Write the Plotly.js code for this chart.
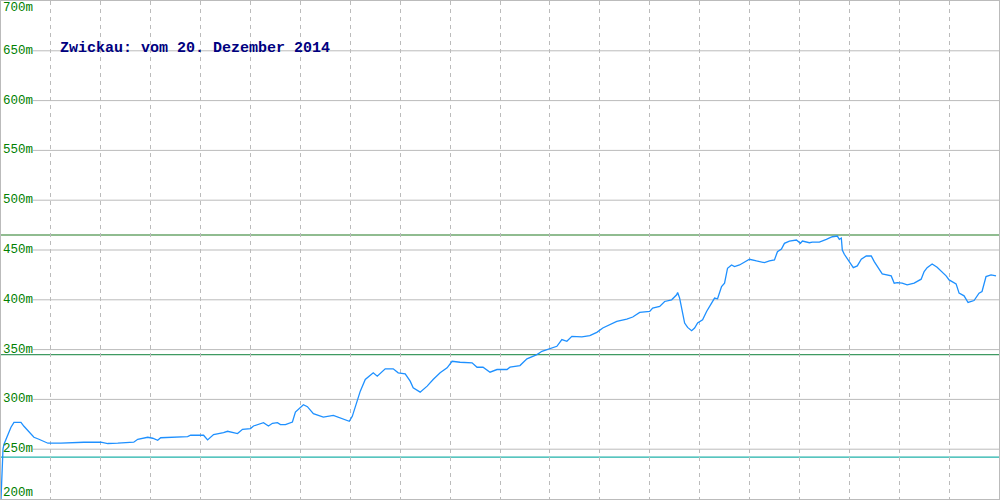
<!DOCTYPE html>
<html>
<head>
<meta charset="utf-8">
<script src="https://cdn.plot.ly/plotly-3.0.1.min.js"></script>
<style>html,body{margin:0;padding:0;background:#fff}#chart{width:1000px;height:500px}</style>
</head>
<body>
<div id="chart"></div>
<script>
// distance index (x) and elevation in metres (y)
const distance = [0,2,3,5,10,13,20,23,28,33,38,47,60,70,83,100,107,117,133,137,147,152,157,160,170,187,190,203,207,213,223,227,237,242,250,253,263,268,272,277,280,285,292,295,303,307,313,323,333,340,345,349,352,355,358,360,365,370,373,377,380,385,393,398,405,410,413,420,427,433,440,447,452,460,472,477,483,490,497,507,510,520,527,537,542,550,557,562,567,572,582,590,597,603,610,617,627,633,640,650,653,660,665,672,677,678,680,683,685,688,692,695,698,703,707,712,715,718,722,725,728,732,735,740,745,750,757,765,770,775,778,782,785,790,797,801,803,810,813,820,827,833,838,840,842,843,845,850,854,858,862,867,872,875,880,883,892,895,898,903,908,915,922,925,928,933,938,943,947,950,957,960,965,969,975,980,983,987,992,997];
const elevation = [200,250,255,260,272,277,277,273,267,262,260,256,256,256.7,257,257,255.7,256,257,260,262,261,259,261.5,262,262.7,264,264,259.3,264.7,266.7,268,265.7,270,270.7,273.3,276.7,273.3,276,276.7,274.7,274.7,277.3,287.3,294.7,292.7,285.7,282.3,284,281.3,279,278,283,293,302,308.3,320,324,326.7,323.3,326,330.7,330.7,326.7,325.7,318.3,311.7,307.3,313.3,320,326.7,331.7,338.3,337.3,336.7,332.3,332.3,327.3,330,330,332.3,334,340.7,345,348.3,350.7,353.3,360,358.3,363.3,362.7,364,367.3,371.7,375,378.3,380.7,382.7,387.3,388.3,391.7,393.3,398.3,400,405,407.3,401.7,388.3,376.7,372.3,369,371.7,376.7,380,388.3,396.7,401.7,401,413.3,416.7,431.7,435,433.3,435,437.7,440.7,439,437.3,439,440,448.3,451,456.7,459,460,456.7,459,457.3,458,458,460.7,463.3,464,460.7,462,450,445.7,438.3,432.3,434,440.7,444,444,438.3,430,426,424,416.7,417.3,416.7,415,416.7,420.7,428.3,432.3,436,432.7,428.3,424,420,416,406.7,404,397.3,399.3,406.7,408.3,423.3,425,424];

const yTicks = [200,250,300,350,400,450,500,550,600,650,700];
const yTickLabels = ["200m","250m","300m","350m","400m","450m","500m","550m","600m","650m","700m"];
const refValues = [465, 345, 242];
const refColors = ["#237a23", "#3f9a62", "#20b2aa"];
const titleText = "Zwickau: vom 20. Dezember 2014";

const shapes = [];
yTicks.forEach(v => {
  if (v === 200 || v === 700) return;
  shapes.push({type:"line", xref:"paper", yref:"y", x0:0.032, x1:1, y0:v, y1:v,
    line:{color:"#bbbbbb", width:1}, layer:"below"});
});
refValues.forEach((v, i) => {
  shapes.push({type:"line", xref:"paper", yref:"y", x0:0, x1:1, y0:v, y1:v,
    line:{color:refColors[i], width:1.1}, layer:"below"});
});

const annotations = yTicks.map((v, i) => ({
  x:0, xref:"paper", y:v, yref:"y", text:yTickLabels[i], showarrow:false,
  xanchor:"left", yanchor: v === 700 ? "top" : (v === 200 ? "bottom" : "middle"),
  xshift:0, yshift: v === 700 ? 2 : (v === 200 ? -3 : 0),
  font:{family:"Liberation Mono, monospace", size:12.5, color:"#008000"}
}));
annotations.push({
  x:0.057, xref:"paper", y:652, yref:"y", text:"<b>"+titleText+"</b>", showarrow:false,
  xanchor:"left", yanchor:"middle",
  font:{family:"Liberation Mono, monospace", size:15, color:"#000080"}
});

Plotly.newPlot("chart", [{
  x: distance, y: elevation, type:"scatter", mode:"lines",
  line:{color:"#1e90ff", width:1.3}, hoverinfo:"skip"
}], {
  width:1000, height:500,
  margin:{l:1, r:1, t:1, b:1},
  paper_bgcolor:"#ffffff", plot_bgcolor:"#ffffff",
  showlegend:false,
  xaxis:{range:[0,1000], dtick:50, tick0:0, showgrid:true, gridcolor:"#bbbbbb",
    griddash:"4px,4px", gridwidth:1, showticklabels:false, ticks:"", zeroline:false,
    showline:true, mirror:true, linecolor:"#bbbbbb", linewidth:1},
  yaxis:{range:[200,700], showgrid:false, showticklabels:false, ticks:"", zeroline:false,
    showline:true, mirror:true, linecolor:"#bbbbbb", linewidth:1},
  shapes: shapes,
  annotations: annotations
}, {displayModeBar:false, staticPlot:true});
</script>
</body>
</html>
